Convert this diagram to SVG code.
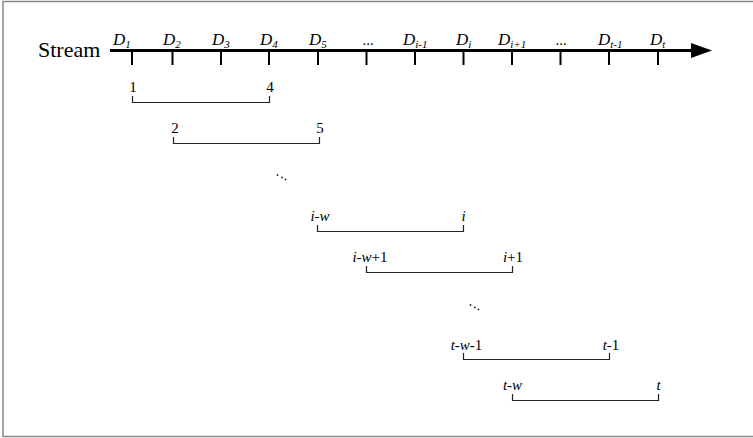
<svg xmlns="http://www.w3.org/2000/svg" width="753" height="438" viewBox="0 0 753 438">
<style>
.tick{stroke:#000;stroke-width:2}
.br{fill:none;stroke:#222;stroke-width:1.2}
.dot{fill:#222}
</style>
<rect x="3" y="1.5" width="760" height="435" fill="#fff" stroke="#888" stroke-width="1.5"/>
<g id="axis">
<text x="38" y="57" style="font-family:'Liberation Serif',serif !important;font-size:22px">Stream</text>
<line x1="110" y1="50.5" x2="695" y2="50.5" stroke="#000" stroke-width="3"/>
<polygon points="691,43 712,50.5 691,58" fill="#000"/>
<line class="tick" x1="132" y1="51" x2="132" y2="65"/>
<line class="tick" x1="172.5" y1="51" x2="172.5" y2="65"/>
<line class="tick" x1="221" y1="51" x2="221" y2="65"/>
<line class="tick" x1="269" y1="51" x2="269" y2="65"/>
<line class="tick" x1="318" y1="51" x2="318" y2="65"/>
<line class="tick" x1="366.5" y1="51" x2="366.5" y2="65"/>
<line class="tick" x1="415" y1="51" x2="415" y2="65"/>
<line class="tick" x1="463.5" y1="51" x2="463.5" y2="65"/>
<line class="tick" x1="512" y1="51" x2="512" y2="65"/>
<line class="tick" x1="560.5" y1="51" x2="560.5" y2="65"/>
<line class="tick" x1="609" y1="51" x2="609" y2="65"/>
<line class="tick" x1="658" y1="51" x2="658" y2="65"/>
<text x="113" y="45" style="font-family:'Liberation Serif',serif !important;font-size:17px;font-style:italic">D<tspan dy="3" style="font-size:11px">1</tspan></text>
<text x="163" y="45" style="font-family:'Liberation Serif',serif !important;font-size:17px;font-style:italic">D<tspan dy="3" style="font-size:11px">2</tspan></text>
<text x="212" y="45" style="font-family:'Liberation Serif',serif !important;font-size:17px;font-style:italic">D<tspan dy="3" style="font-size:11px">3</tspan></text>
<text x="260" y="45" style="font-family:'Liberation Serif',serif !important;font-size:17px;font-style:italic">D<tspan dy="3" style="font-size:11px">4</tspan></text>
<text x="309" y="45" style="font-family:'Liberation Serif',serif !important;font-size:17px;font-style:italic">D<tspan dy="3" style="font-size:11px">5</tspan></text>
<text x="368" y="45" text-anchor="middle" style="font-family:'Liberation Serif',serif !important;font-size:15px">...</text>
<text x="403" y="45" style="font-family:'Liberation Serif',serif !important;font-size:17px;font-style:italic">D<tspan dy="3" style="font-size:11px">i-1</tspan></text>
<text x="456" y="45" style="font-family:'Liberation Serif',serif !important;font-size:17px;font-style:italic">D<tspan dy="3" style="font-size:11px">i</tspan></text>
<text x="498" y="45" style="font-family:'Liberation Serif',serif !important;font-size:17px;font-style:italic">D<tspan dy="3" style="font-size:11px">i+1</tspan></text>
<text x="561" y="45" text-anchor="middle" style="font-family:'Liberation Serif',serif !important;font-size:15px">...</text>
<text x="598" y="45" style="font-family:'Liberation Serif',serif !important;font-size:17px;font-style:italic">D<tspan dy="3" style="font-size:11px">t-1</tspan></text>
<text x="650" y="45" style="font-family:'Liberation Serif',serif !important;font-size:17px;font-style:italic">D<tspan dy="3" style="font-size:11px">t</tspan></text>
</g>
<g id="w1">
<path class="br" d="M132.5,96 V102.5 H269.5 V96"/>
<text x="133" y="92" text-anchor="middle" style="font-family:'Liberation Serif',serif !important;font-size:15px">1</text>
<text x="270" y="92" text-anchor="middle" style="font-family:'Liberation Serif',serif !important;font-size:15px">4</text>
</g>
<g id="w2">
<path class="br" d="M173.5,137 V143.5 H319.5 V137"/>
<text x="175" y="133" text-anchor="middle" style="font-family:'Liberation Serif',serif !important;font-size:15px">2</text>
<text x="320" y="133" text-anchor="middle" style="font-family:'Liberation Serif',serif !important;font-size:15px">5</text>
</g>
<g id="dots1">
<circle class="dot" cx="277.5" cy="175" r="0.9"/>
<circle class="dot" cx="282" cy="177.5" r="0.9"/>
<circle class="dot" cx="285.5" cy="179.5" r="0.9"/>
</g>
<g id="w3">
<path class="br" d="M317.5,225 V231.5 H463.5 V225"/>
<text x="320" y="221" text-anchor="middle" style="font-family:'Liberation Serif',serif !important;font-size:15px"><tspan font-style="italic">i</tspan>-<tspan font-style="italic">w</tspan></text>
<text x="463.5" y="221" text-anchor="middle" style="font-family:'Liberation Serif',serif !important;font-size:15px;font-style:italic">i</text>
</g>
<g id="w4">
<path class="br" d="M366.5,266 V272.5 H512.5 V266"/>
<text x="370" y="262" text-anchor="middle" style="font-family:'Liberation Serif',serif !important;font-size:15px"><tspan font-style="italic">i</tspan>-<tspan font-style="italic">w</tspan>+1</text>
<text x="513" y="262" text-anchor="middle" style="font-family:'Liberation Serif',serif !important;font-size:15px"><tspan font-style="italic">i</tspan>+1</text>
</g>
<g id="dots2">
<circle class="dot" cx="470.5" cy="305" r="0.9"/>
<circle class="dot" cx="475" cy="307.5" r="0.9"/>
<circle class="dot" cx="478.5" cy="309.5" r="0.9"/>
</g>
<g id="w5">
<path class="br" d="M463.5,353 V359.5 H609.5 V353"/>
<text x="466.5" y="350" text-anchor="middle" style="font-family:'Liberation Serif',serif !important;font-size:15px"><tspan font-style="italic">t</tspan>-<tspan font-style="italic">w</tspan>-1</text>
<text x="611" y="350" text-anchor="middle" style="font-family:'Liberation Serif',serif !important;font-size:15px"><tspan font-style="italic">t</tspan>-1</text>
</g>
<g id="w6">
<path class="br" d="M512.5,394 V400.5 H658.5 V394"/>
<text x="512.5" y="390" text-anchor="middle" style="font-family:'Liberation Serif',serif !important;font-size:15px"><tspan font-style="italic">t</tspan>-<tspan font-style="italic">w</tspan></text>
<text x="658.5" y="390" text-anchor="middle" style="font-family:'Liberation Serif',serif !important;font-size:15px;font-style:italic">t</text>
</g>
</svg>
